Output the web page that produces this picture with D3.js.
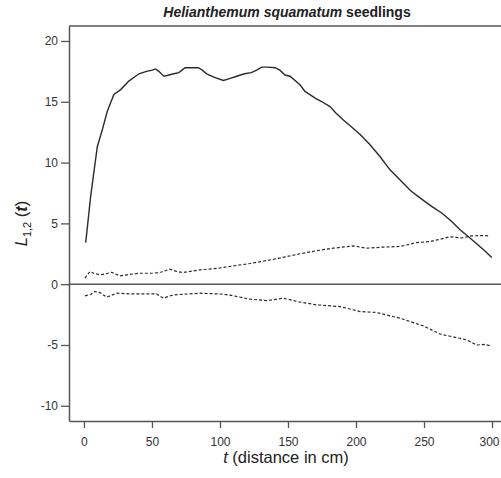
<!DOCTYPE html>
<html>
<head>
<meta charset="utf-8">
<script src="https://cdn.jsdelivr.net/npm/d3@7"></script>
<style>
  body { margin: 0; background: #fff; }
  svg { display: block; font-family: "Liberation Sans", Arial, sans-serif; }
</style>
</head>
<body>
<svg id="chart" width="501" height="478"></svg>
<script>
const WIDTH = 501, HEIGHT = 478;
const MARGIN_LEFT = 69, MARGIN_RIGHT = 0, MARGIN_TOP = 26, MARGIN_BOT = 57;
const LINE_COLOR = "#2b2b2b";
const AXIS_COLOR = "#555";

// observed L1,2(t)
const obsT = [1.3, 4.9, 9.8, 13.5, 17.1, 22, 27, 33, 40.4, 46, 50.2, 52.6, 55, 58.8, 62.5, 66, 69.8,
              74.3, 79, 84, 87, 90.2, 96, 102.5, 107, 112.3, 118, 123, 127, 130.6, 135, 140.4, 144,
              147.8, 151.5, 158.8, 162.5, 170, 175, 180.9, 185, 190.7, 197, 203, 210, 217.6, 225,
              234.8, 240, 247, 255.6, 263, 270, 276.5, 283.8, 290, 295, 299.8];
const obsL = [3.42, 7.2, 11.3, 12.7, 14.2, 15.6, 16.0, 16.7, 17.3, 17.5, 17.6, 17.7, 17.5, 17.1, 17.2, 17.3, 17.4,
              17.8, 17.8, 17.8, 17.6, 17.3, 17.0, 16.75, 16.9, 17.1, 17.3, 17.4, 17.6, 17.85, 17.85, 17.8, 17.6,
              17.2, 17.1, 16.4, 15.85, 15.3, 15.0, 14.6, 14.1, 13.5, 12.9, 12.3, 11.5, 10.5, 9.4,
              8.3, 7.7, 7.1, 6.4, 5.85, 5.2, 4.47, 3.8, 3.2, 2.7, 2.2];

// upper simulation envelope
const upT = [0.7, 4.4, 7, 11.8, 16, 20.3, 26.5, 33, 41, 51, 57, 63.2, 68, 73, 85.3, 98, 109.8, 122,
             134.3, 146, 158.8, 171, 183.3, 198, 207.8, 220, 232.4, 244.6, 254, 262, 269, 277.7, 285, 292, 298.5];
const upL = [0.5, 1.04, 0.9, 0.77, 0.85, 0.98, 0.68, 0.8, 0.9, 0.9, 1.0, 1.23, 1.05, 0.96, 1.18, 1.3, 1.5, 1.7,
             1.94, 2.2, 2.5, 2.75, 2.96, 3.15, 2.96, 3.05, 3.1, 3.42, 3.5, 3.7, 3.9, 3.8, 3.97, 4.0, 3.97];

// lower simulation envelope
const loT = [0.7, 5, 8, 11.8, 16.7, 24, 35, 53.4, 58.3, 65.7, 85.3, 102.4, 112, 122, 134.3, 146.5, 158,
             171, 188.2, 203, 215.2, 232.4, 249.5, 261.8, 272, 281.4, 288.7, 294, 299.8];
const loL = [-0.96, -0.85, -0.6, -0.69, -1.07, -0.74, -0.8, -0.8, -1.15, -0.88, -0.74, -0.82, -1.0, -1.23, -1.35, -1.15, -1.45,
             -1.7, -1.84, -2.25, -2.33, -2.8, -3.43, -4.1, -4.35, -4.58, -5.0, -4.95, -5.08];

const xTicks = [0, 50, 100, 150, 200, 250, 300];
const yTicks = [-10, -5, 0, 5, 10, 15, 20];

const svg = d3.select("#chart");
const plotW = WIDTH - MARGIN_LEFT - MARGIN_RIGHT,
      plotH = HEIGHT - MARGIN_TOP - MARGIN_BOT;

const xScale = d3.scaleLinear().domain([-11, 306.6]).range([MARGIN_LEFT, MARGIN_LEFT + plotW]);
const yScale = d3.scaleLinear().domain([-11.25, 21.23]).range([MARGIN_TOP + plotH, MARGIN_TOP]);

// plain hyphen minus like the original
const fmt = d => String(d);

// frame: top and zero line
svg.append("line")
	.attr("x1", MARGIN_LEFT).attr("x2", WIDTH)
	.attr("y1", MARGIN_TOP).attr("y2", MARGIN_TOP)
	.attr("stroke", AXIS_COLOR).attr("stroke-width", 1.5);
svg.append("line")
	.attr("x1", MARGIN_LEFT).attr("x2", WIDTH)
	.attr("y1", yScale(0)).attr("y2", yScale(0))
	.attr("stroke", AXIS_COLOR).attr("stroke-width", 1.5);

// x axis
const xAxis = svg.append("g")
	.attr("transform", "translate(0," + (MARGIN_TOP + plotH) + ")")
	.call(d3.axisBottom(xScale).tickValues(xTicks).tickFormat(fmt).tickSize(7).tickSizeOuter(0).tickPadding(9));
xAxis.select(".domain").attr("stroke", AXIS_COLOR).attr("stroke-width", 1.5);
xAxis.selectAll(".tick line").attr("stroke", AXIS_COLOR).attr("stroke-width", 1.3);
xAxis.selectAll("text").attr("font-size", 12).attr("fill", "#333")
	.attr("font-family", "Liberation Sans, Arial, sans-serif")
	.attr("dx", d => d === 300 ? -3 : 0);

// y axis
const yAxis = svg.append("g")
	.attr("transform", "translate(" + MARGIN_LEFT + ",0)")
	.call(d3.axisLeft(yScale).tickValues(yTicks).tickFormat(fmt).tickSize(8).tickSizeOuter(0).tickPadding(3));
yAxis.select(".domain").attr("stroke", AXIS_COLOR).attr("stroke-width", 1.5);
yAxis.selectAll(".tick line").attr("stroke", AXIS_COLOR).attr("stroke-width", 1.3);
yAxis.selectAll("text").attr("font-size", 12).attr("fill", "#333")
	.attr("font-family", "Liberation Sans, Arial, sans-serif");

// curves
const line = d3.line()
	.x(d => xScale(d[0]))
	.y(d => yScale(d[1]));

svg.append("path")
	.datum(d3.zip(upT, upL))
	.attr("d", line)
	.attr("fill", "none").attr("stroke", LINE_COLOR)
	.attr("stroke-width", 1.2).attr("stroke-dasharray", "3,2");
svg.append("path")
	.datum(d3.zip(loT, loL))
	.attr("d", line)
	.attr("fill", "none").attr("stroke", LINE_COLOR)
	.attr("stroke-width", 1.2).attr("stroke-dasharray", "3,2");
svg.append("path")
	.datum(d3.zip(obsT, obsL))
	.attr("d", line)
	.attr("fill", "none").attr("stroke", LINE_COLOR)
	.attr("stroke-width", 1.4);

// title
const title = svg.append("text")
	.attr("x", MARGIN_LEFT + plotW / 2 + 2)
	.attr("y", 17)
	.attr("text-anchor", "middle")
	.attr("font-size", 14).attr("font-weight", "bold").attr("fill", "#222");
title.append("tspan").attr("font-style", "italic").text("Helianthemum squamatum");
title.append("tspan").text(" seedlings");

// x axis title
const xTitle = svg.append("text")
	.attr("x", MARGIN_LEFT + plotW / 2 + 1)
	.attr("y", 463)
	.attr("text-anchor", "middle")
	.attr("font-size", 16.5).attr("fill", "#222");
xTitle.append("tspan").attr("font-style", "italic").text("t");
xTitle.append("tspan").text(" (distance in cm)");

// y axis title
const yTitle = svg.append("text")
	.attr("transform", "translate(27," + (MARGIN_TOP + plotH / 2) + ") rotate(-90)")
	.attr("text-anchor", "middle")
	.attr("font-size", 16.5).attr("fill", "#222");
yTitle.append("tspan").attr("font-style", "italic").text("L");
yTitle.append("tspan").attr("font-size", 11).attr("dy", 4).text("1,2");
yTitle.append("tspan").attr("dy", -4).text(" (");
yTitle.append("tspan").attr("font-style", "italic").attr("font-weight", "bold").text("t");
yTitle.append("tspan").text(")");
</script>
</body>
</html>
